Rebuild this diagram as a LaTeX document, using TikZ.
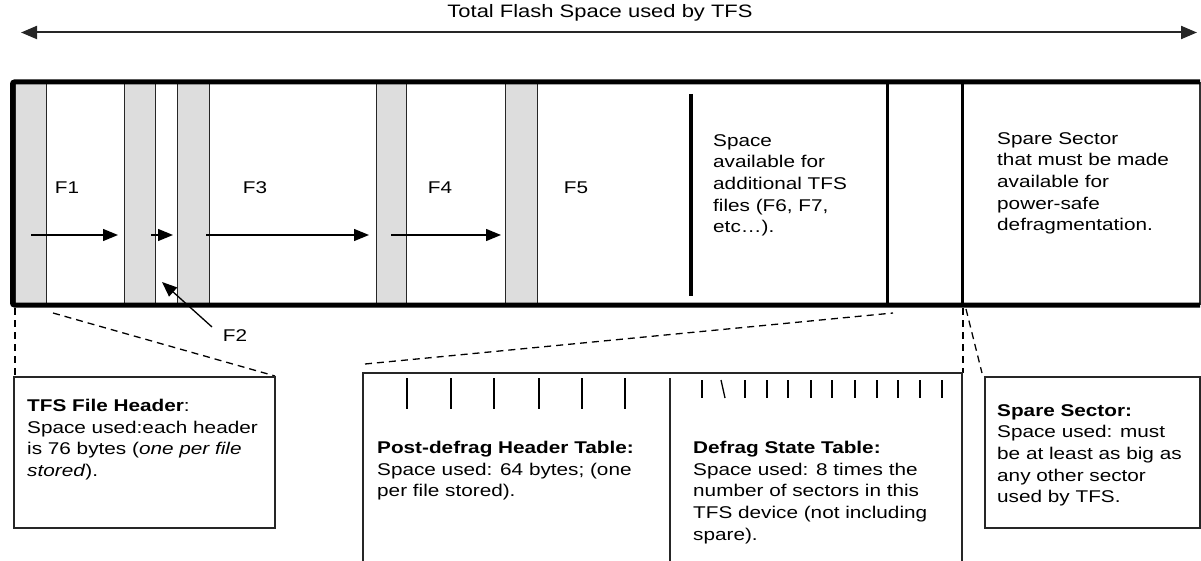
\documentclass[tikz,border=0pt]{standalone}
\usepackage{fontspec}
\setmainfont{Liberation Sans}[FakeStretch=1.22]
\usetikzlibrary{arrows.meta}
\definecolor{hdrgrey}{HTML}{DDDDDD}
\begin{document}
\begin{tikzpicture}[x=1pt,y=-1pt,
  txt/.style={anchor=north west, inner sep=0pt, align=left, font=\fontsize{17}{21.7}\selectfont},
  lbl/.style={inner sep=0pt, font=\fontsize{17}{21.7}\selectfont},
  hdrcol/.style={fill=hdrgrey, draw=black!85, line width=1pt},
  flow/.style={-{Triangle[length=15pt,width=12pt]}, line width=1.3pt},
  span/.style={{Triangle[length=16pt,width=13pt]}-{Triangle[length=16pt,width=13pt]}, line width=2pt, draw=black!85},
  dsh/.style={dash pattern=on 7pt off 5pt, line width=1.3pt},
  boxline/.style={draw=black!85, line width=1.5pt},
  tick/.style={line width=1.3pt},
]
\useasboundingbox (0,0) rectangle (1201,561);

% top span arrow
\coordinate (spanL) at (21,32.5);
\coordinate (spanR) at (1197,32.5);
\draw[span] (spanL) -- (spanR);
\node[lbl, font=\fontsize{18}{21.7}\selectfont] (title) at (600,13) {Total Flash Space used by TFS};

% header columns
\foreach \a/\b/\n in {15/46/h1,124/155/h2,177/209/h3,376/406/h4,505/537/h5}{
  \draw[hdrcol] (\a,84) rectangle (\b,303);
}
\draw[black!85, line width=1pt] (155,84) -- (155,303);

% main box
\draw[line width=1.2pt, black!80] (1200,82) -- (1200,305);
\draw[line width=5pt, rounded corners=2pt] (1200,82) -- (12.5,82) -- (12.5,305) -- (1200,305);
\draw[line width=4pt] (691,94) -- (691,296);
\draw[line width=3pt] (887,82) -- (887,305);
\draw[line width=3pt] (962,82) -- (962,305);

% file labels
\node[lbl] (F1) at (67,188) {F1};
\node[lbl] (F3) at (255,188) {F3};
\node[lbl] (F4) at (440,188) {F4};
\node[lbl] (F5) at (576,188) {F5};

% flow arrows
\coordinate (a1s) at (31,235);  \coordinate (a1e) at (118,235);
\coordinate (a2s) at (151,235); \coordinate (a2e) at (173,235);
\coordinate (a3s) at (206,235); \coordinate (a3e) at (369,235);
\coordinate (a4s) at (391,235); \coordinate (a4e) at (501,235);
\draw[flow] (a1s) -- (a1e);
\draw[flow] (a2s) -- (a2e);
\draw[flow] (a3s) -- (a3e);
\draw[flow] (a4s) -- (a4e);

% F2
\node[lbl] (F2) at (235,336) {F2};
\coordinate (f2tip) at (162,282);
\draw[flow] (212,327) -- (f2tip);

% texts inside main box
\node[txt] (avail) at (713,134) {Space\\available for\\additional TFS\\files (F6, F7,\\etc…).};
\node[txt] (spare) at (997,132) {Spare Sector\\that must be made\\available for\\power-safe\\defragmentation.};

% dashed zoom lines
\draw[dsh] (15,308) -- (15,376);
\draw[dsh] (53,313) -- (275,376);
\draw[dsh] (365,364) -- (893,313);
\draw[dsh] (963,308) -- (963,373);
\draw[dsh] (966,309) -- (982,373);

% TFS file header box
\draw[boxline] (14,377) rectangle (275,528);
\node[txt] (hdrtxt) at (27,399) {\textbf{TFS File Header}:\\Space used:each header\\is 76 bytes (\textit{one per file}\\\textit{stored}).};

% middle open box
\draw[boxline] (363,561) -- (363,373) -- (962,373) -- (962,561);
\draw[boxline] (670,378) -- (670,561);
\foreach \x in {407,451,494,539,582,625}{
  \draw[tick] (\x,378) -- (\x,409);
}
\foreach \x in {702,745,767,788,811,832,855,877,898,920,942}{
  \draw[tick] (\x,380) -- (\x,398);
}
\draw[tick] (721,380) -- (725,398);
\node[txt] (pdh) at (377,441) {\textbf{Post-defrag Header Table:}\\Space used: 64 bytes; (one\\per file stored).};
\node[txt] (dst) at (693,441) {\textbf{Defrag State Table:}\\Space used: 8 times the\\number of sectors in this\\TFS device (not including\\spare).};

% spare sector box
\draw[boxline] (985,377) -- (1200,377) -- (1200,528) -- (985,528) -- cycle;
\node[txt] (sstxt) at (997,404) {\textbf{Spare Sector:}\\Space used: must\\be at least as big as\\any other sector\\used by TFS.};
\end{tikzpicture}
\end{document}
